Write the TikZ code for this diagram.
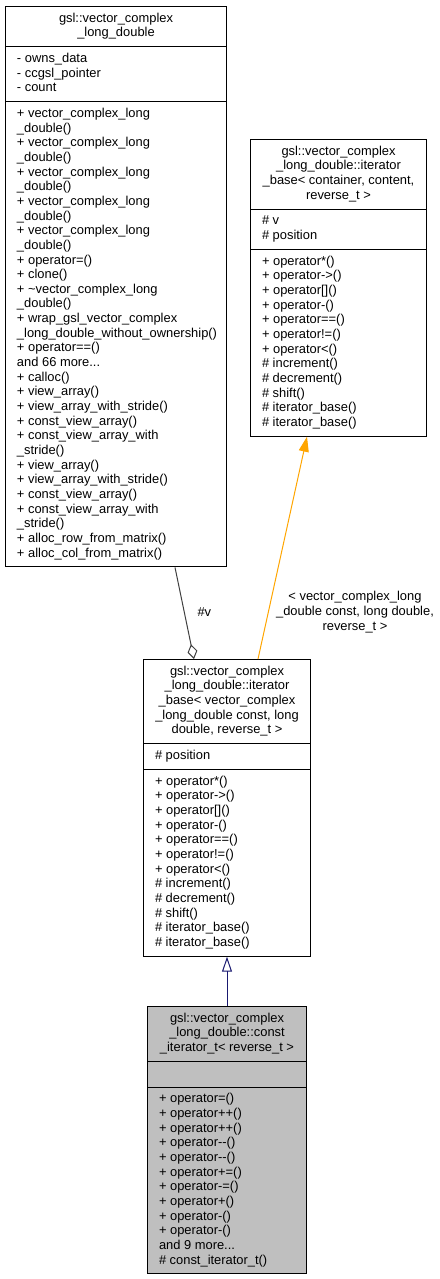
\documentclass[tikz,border=0pt]{standalone}
\usepackage{fontspec}
\setmainfont{Liberation Sans}
\usetikzlibrary{shapes.multipart,arrows.meta}

\definecolor{doxblue}{HTML}{191970}
\definecolor{doxorange}{HTML}{FFA500}
\definecolor{doxgrey}{HTML}{404040}
\definecolor{doxfill}{HTML}{BFBFBF}

\newcommand{\classfont}{\fontsize{12.9}{14.65}\selectfont}
\newcommand{\classhead}[1]{\begin{tabular}{@{}c@{}}#1\end{tabular}}
\newcommand{\classrows}[1]{\begin{tabular}{@{\hspace{1.5pt}}l@{\hspace{-1.5pt}}}#1\end{tabular}}

\begin{document}
\begin{tikzpicture}[x=1pt,y=-1pt,line width=1pt,
  umlclass/.style={rectangle split, rectangle split parts=3, draw=black, fill=white,
    rectangle split part align={center,left,left}, inner xsep=10pt, inner ysep=5pt,
    anchor=north west, font=\classfont},
  lbl/.style={font=\classfont, inner sep=0pt},
  usage/.style={draw=doxgrey, arrows={Diamond[open,length=15pt,width=10pt]-}},
  tmpl/.style={draw=doxorange, arrows={-Triangle[length=15pt,width=10pt]}},
  inherit/.style={draw=doxblue, arrows={-Triangle[open,length=15pt,width=10pt]}}]

  \useasboundingbox (0,0) rectangle (439,1279);

  % Draw the class boxes
  \node[umlclass, minimum width=221pt] (vcld) at (5,6)
    {\classhead{gsl::vector\_complex\\\_long\_double}
     \nodepart{second}\classrows{- owns\_data\\- ccgsl\_pointer\\- count}
     \nodepart{third}\classrows{+ vector\_complex\_long\\\_double()\\
       + vector\_complex\_long\\\_double()\\
       + vector\_complex\_long\\\_double()\\
       + vector\_complex\_long\\\_double()\\
       + vector\_complex\_long\\\_double()\\
       + operator=()\\+ clone()\\
       + \textasciitilde vector\_complex\_long\\\_double()\\
       + wrap\_gsl\_vector\_complex\\\_long\_double\_without\_ownership()\\
       + operator==()\\and 66 more...\\+ calloc()\\+ view\_array()\\
       + view\_array\_with\_stride()\\+ const\_view\_array()\\
       + const\_view\_array\_with\\\_stride()\\+ view\_array()\\
       + view\_array\_with\_stride()\\+ const\_view\_array()\\
       + const\_view\_array\_with\\\_stride()\\
       + alloc\_row\_from\_matrix()\\+ alloc\_col\_from\_matrix()}};

  \node[umlclass, minimum width=176pt] (itbase) at (250,139)
    {\classhead{gsl::vector\_complex\\\_long\_double::iterator\\\_base< container, content,\\reverse\_t >}
     \nodepart{second}\classrows{\# v\\\# position}
     \nodepart{third}\classrows{+ operator*()\\+ operator->()\\+ operator[]()\\+ operator-()\\
       + operator==()\\+ operator!=()\\+ operator<()\\\# increment()\\\# decrement()\\
       \# shift()\\\# iterator\_base()\\\# iterator\_base()}};

  \node[umlclass, minimum width=167pt] (itb) at (143,659)
    {\classhead{gsl::vector\_complex\\\_long\_double::iterator\\\_base< vector\_complex\\\_long\_double const, long\\double, reverse\_t >}
     \nodepart{second}\classrows{\# position}
     \nodepart{third}\classrows{+ operator*()\\+ operator->()\\+ operator[]()\\+ operator-()\\
       + operator==()\\+ operator!=()\\+ operator<()\\\# increment()\\\# decrement()\\
       \# shift()\\\# iterator\_base()\\\# iterator\_base()}};

  \node[umlclass, fill=doxfill, minimum width=159pt] (cit) at (147,1006)
    {\classhead{gsl::vector\_complex\\\_long\_double::const\\\_iterator\_t< reverse\_t >}
     \nodepart{second}\strut
     \nodepart{third}\classrows{+ operator=()\\+ operator++()\\+ operator++()\\
       + operator-{}-()\\+ operator-{}-()\\+ operator+=()\\+ operator-=()\\+ operator+()\\
       + operator-()\\+ operator-()\\and 9 more...\\\# const\_iterator\_t()}};

  % Draw the relations
  \draw[usage] ([xshift=51pt]itb.north west) -- ([xshift=170pt]vcld.south west);
  \draw[tmpl] ([xshift=115pt]itb.north west) -- ([xshift=57pt]itbase.south west);
  \draw[inherit] (cit.north) -- (itb.south);

  % Labels on the relations
  \node[lbl, anchor=west] (vlabel) at (197,612) {\#v};
  \node[lbl, align=center] (tmplabel) at (355,612)
    {< vector\_complex\_long\\\_double const, long double,\\reverse\_t >};

\end{tikzpicture}
\end{document}
